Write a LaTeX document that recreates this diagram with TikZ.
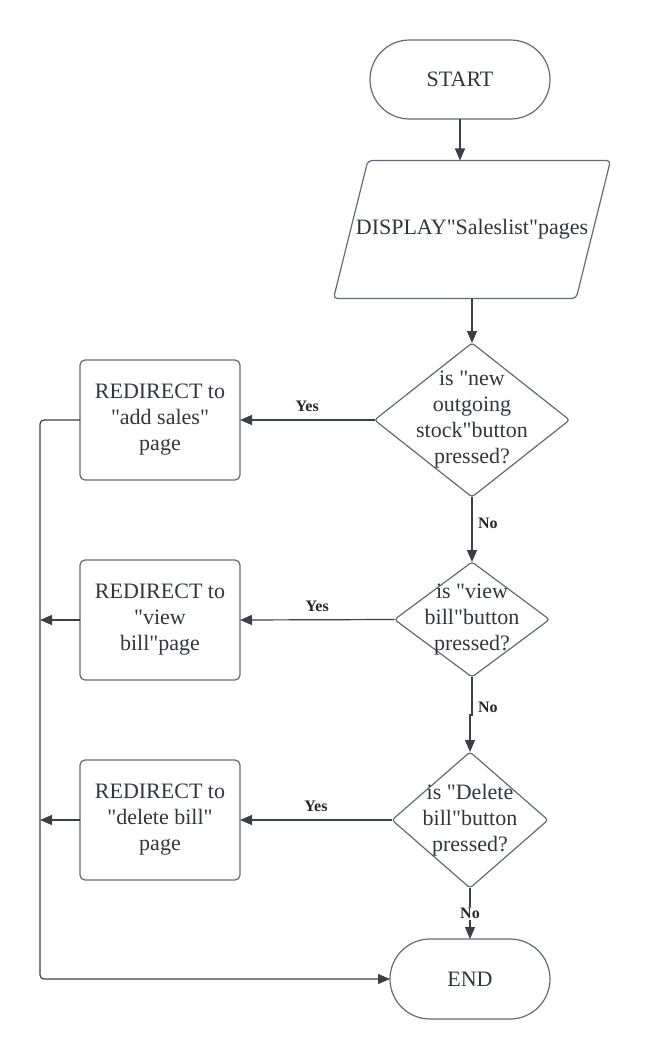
\documentclass[tikz,border=0pt]{standalone}
\usepackage{fontspec}
\setmainfont[Ligatures=TeXOff]{Liberation Serif}
\usetikzlibrary{shapes.geometric,arrows.meta}
\definecolor{lineclr}{RGB}{58,64,72}
\definecolor{edgeclr}{RGB}{100,106,114}
\definecolor{txtclr}{RGB}{48,54,62}

\begin{document}
\begin{tikzpicture}[x=1pt,y=-1pt,
  every node/.style={text=txtclr, font=\fontsize{22}{26}\selectfont, align=center, outer sep=0pt},
  term/.style={draw=edgeclr, line width=1.2pt, rounded corners=39.5pt, minimum width=180pt, minimum height=79pt},
  io/.style={draw=edgeclr, line width=1.2pt, trapezium, trapezium left angle=76, trapezium right angle=104,
    trapezium stretches body, inner xsep=-12pt, inner ysep=59pt, rounded corners=4pt},
  proc/.style={draw=edgeclr, line width=1.2pt, rounded corners=5pt, minimum width=160pt, minimum height=120pt},
  dec/.style={draw=edgeclr, line width=1.2pt, diamond, rounded corners=3pt, inner sep=0pt},
  lbl/.style={text=black!85, font=\bfseries\fontsize{16}{18}\selectfont, inner sep=1pt},
  arr/.style={draw=lineclr, line width=1.2pt, -{Triangle[length=12pt,width=10pt]}}]
\useasboundingbox (0,0) rectangle (652,1060);

\node[term] (start) at (460,79.5) {START};
\node[io] (display) at (472,229.5) {DISPLAY"Saleslist"pages};
\node[dec, minimum width=195pt, minimum height=154pt,
  label={center:is "new\\outgoing\\stock"button\\pressed?}] (d1) at (472,420) {};
\node[dec, minimum width=155pt, minimum height=115pt,
  label={center:is "view\\bill"button\\pressed?}] (d2) at (472,619.5) {};
\node[dec, minimum width=156pt, minimum height=136pt,
  label={center:is "Delete\\bill"button\\pressed?}] (d3) at (470,820) {};
\node[term, minimum width=160pt, minimum height=80pt, rounded corners=40pt] (end) at (470,979) {END};

\node[proc] (box1) at (160,420) {REDIRECT to\\"add sales"\\page};
\node[proc] (box2) at (160,620) {REDIRECT to\\"view\\bill"page};
\node[proc] (box3) at (160,820) {REDIRECT to\\"delete bill"\\page};
\coordinate (rail) at (40,420);

\draw[arr] (start.south) -- (start.south |- display.north);
\draw[arr] (display.south -| d1.north) -- (d1.north);
\draw[arr] (d1.west) -- node[lbl, above=7pt]{Yes} (box1.east);
\draw[arr] (d1.south) -- node[lbl, right=5pt, pos=0.4]{No} (d2.north);
\draw[arr] (d2.west) -- node[lbl, above=7pt]{Yes} (box2.east);
\draw[arr] (d2.south) -- node[lbl, right=5pt, pos=0.8]{No} ++(0,38) -| (d3.north);
\draw[arr] (d3.west) -- node[lbl, above=7pt]{Yes} (box3.east);
\draw[arr] (d3.south) -- node[lbl, fill=white]{No} (end.north);
\draw[arr] (box2.west) -- (box2.west -| rail);
\draw[arr] (box3.west) -- (box3.west -| rail);
\draw[arr, rounded corners=4pt] (box1.west) -- (rail) |- (end.west);
\end{tikzpicture}
\end{document}
